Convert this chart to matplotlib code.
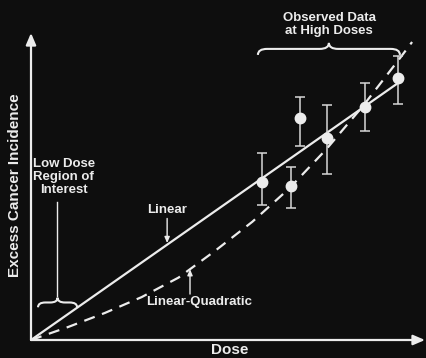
#!/usr/bin/env python3
"""Linear vs linear-quadratic dose response, white-on-black slide style."""

import matplotlib
matplotlib.use("Agg")
import matplotlib.pyplot as plt
from matplotlib.path import Path
import matplotlib.patches as mpatches

plt.rcParams["font.family"] = ["Liberation Sans", "DejaVu Sans"]

# observed data at high doses (dose, incidence, lower / upper error)
dose = [6.26, 7.05, 7.29, 8.02, 9.05, 9.95]
incidence = [5.27, 5.13, 7.40, 6.73, 7.77, 8.73]
err_low = [0.77, 0.73, 0.93, 1.20, 0.80, 0.86]
err_high = [0.96, 0.64, 0.70, 1.10, 0.80, 0.74]

# model curves
linear_dose = [0.0, 10.05]
linear_resp = [0.0, 8.65]
lq_dose = [0, 1, 2, 3, 4, 5, 6, 7, 8, 9, 10, 10.33]
lq_resp = [0, 0.43, 0.90, 1.43, 2.08, 2.98, 3.94, 5.05, 6.35, 7.80, 9.39, 9.93]

BG = "#0e0e0e"
FG = "#ececec"


def brace(ax, x0, x1, y, h, r, lw=1.5):
    """Curly brace with the point facing up, ends curling down."""
    xm = (x0 + x1) / 2
    verts = [
        (x0, y - h), (x0, y), (x0 + r, y),
        (xm - r, y),
        (xm, y), (xm, y + h),
        (xm, y), (xm + r, y),
        (x1 - r, y),
        (x1, y), (x1, y - h),
    ]
    codes = [Path.MOVETO, Path.CURVE3, Path.CURVE3,
             Path.LINETO,
             Path.CURVE3, Path.CURVE3,
             Path.CURVE3, Path.CURVE3,
             Path.LINETO,
             Path.CURVE3, Path.CURVE3]
    ax.add_patch(mpatches.PathPatch(Path(verts, codes), fill=False,
                                    edgecolor=FG, lw=lw, clip_on=False))


fig = plt.figure(figsize=(4.27, 3.58), dpi=100, facecolor=BG)
ax = fig.add_axes([31 / 427, 18 / 358, 394 / 427, 307 / 358])
ax.set_facecolor(BG)
ax.set_xlim(0, 10.68)
ax.set_ylim(0, 10.23)
for s in ax.spines.values():
    s.set_visible(False)
ax.set_xticks([])
ax.set_yticks([])

# axes with arrow heads
arrow = dict(arrowstyle="-|>,head_length=0.7,head_width=0.3", color=FG,
             lw=1.6, shrinkA=0, shrinkB=0)
ax.annotate("", xy=(0, 1.0), xytext=(0, 0), xycoords="axes fraction",
            arrowprops=arrow, annotation_clip=False)
ax.annotate("", xy=(1.0, 0), xytext=(0, 0), xycoords="axes fraction",
            arrowprops=arrow, annotation_clip=False)

# curves
ax.plot(linear_dose, linear_resp, color=FG, lw=1.6, solid_capstyle="butt")
ax.plot(lq_dose, lq_resp, color=FG, lw=1.6, dashes=(5, 3.5))

# data
ax.errorbar(dose, incidence, yerr=[err_low, err_high], fmt="o",
            color=FG, ms=7.5, mfc=FG, mec=FG, ecolor="#d8d8d8",
            elinewidth=1.1, capsize=3.6, capthick=1.1, zorder=5)

txt = dict(color=FG, fontweight="bold", fontsize=9.5)

# observed data brace
brace(ax, 6.15, 10.0, 9.7, 0.2, 0.25)
ax.text(8.08, 10.5, "Observed Data\nat High Doses", ha="center", va="center",
        linespacing=1.1, clip_on=False, **txt)

# low dose region brace
brace(ax, 0.19, 1.25, 1.25, 0.16, 0.2)
ax.text(0.05, 5.43, "Low Dose\nRegion of\nInterest", ha="left",
        va="center", multialignment="center", linespacing=1.15, **txt)
ax.plot([0.70, 0.70], [1.45, 4.6], color=FG, lw=1.0)

small = dict(arrowstyle="-|>,head_length=0.35,head_width=0.15", color=FG,
             lw=1.0, shrinkA=0, shrinkB=0)
ax.text(3.69, 4.33, "Linear", ha="center", va="center", **txt)
ax.annotate("", xy=(3.69, 3.23), xytext=(3.69, 4.05), arrowprops=small)
ax.text(4.55, 1.27, "Linear-Quadratic", ha="center", va="center", **txt)
ax.annotate("", xy=(4.31, 2.36), xytext=(4.31, 1.53), arrowprops=small)

fig.text(230 / 427, 1 - 350 / 358, "Dose", ha="center", va="center",
         color=FG, fontweight="bold", fontsize=11)
fig.text(15.5 / 427, 1 - 185.5 / 358, "Excess Cancer Incidence",
         ha="center", va="center", rotation=90, color=FG,
         fontweight="bold", fontsize=11)

fig.savefig("out.png", dpi=100, facecolor=BG)
